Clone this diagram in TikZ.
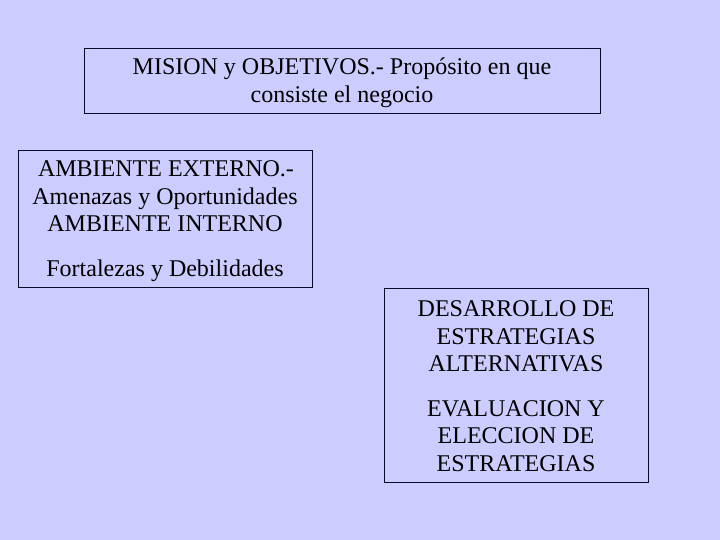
\documentclass[tikz,border=0pt]{standalone}
\usepackage{fontspec}
\setmainfont{Liberation Serif}
\definecolor{bg}{RGB}{204,204,255}
\definecolor{edge}{RGB}{10,10,40}
\begin{document}
\begin{tikzpicture}[x=1pt,y=-1pt,
  frame/.style={draw=edge,line width=1pt,inner sep=0pt,anchor=north west},
  ln/.style={anchor=base,inner sep=0pt,font=\fontsize{24}{29}\selectfont}]
\fill[bg] (0,0) rectangle (720,540);
\useasboundingbox (0,0) rectangle (720,540);
\node[frame,minimum width=516pt,minimum height=65pt] (b1) at (84,48) {};
\node[frame,minimum width=294pt,minimum height=137pt] (b2) at (18,150) {};
\node[frame,minimum width=264pt,minimum height=194pt] (b3) at (384,288) {};
% box 1
\node[ln] (m1) at (342,75) {MISION y OBJETIVOS.- Propósito en que};
\node[ln] (m2) at (342,103) {consiste el negocio};
% box 2
\node[ln] (a1) at (166,177) {AMBIENTE EXTERNO.-};
\node[ln] (a2) at (165,205) {Amenazas y Oportunidades};
\node[ln] (a3) at (165,232) {AMBIENTE INTERNO};
\node[ln] (a4) at (165,276) {Fortalezas y Debilidades};
% box 3
\node[ln] (d1) at (516,316) {DESARROLLO DE};
\node[ln] (d2) at (516,344) {ESTRATEGIAS};
\node[ln] (d3) at (516,371.5) {ALTERNATIVAS};
\node[ln] (e1) at (516,416) {EVALUACION Y};
\node[ln] (e2) at (516,443) {ELECCION DE};
\node[ln] (e3) at (516,471.5) {ESTRATEGIAS};
\end{tikzpicture}
\end{document}
